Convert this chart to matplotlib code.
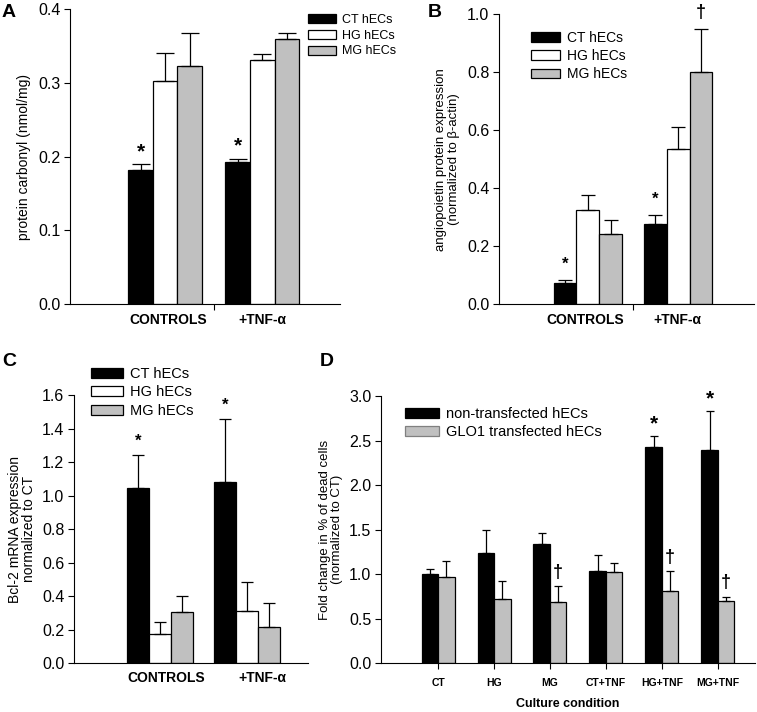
import numpy as np
import matplotlib.pyplot as plt
from matplotlib.patches import Patch

plt.rcParams['font.family'] = ['Liberation Sans', 'DejaVu Sans']

GRAY = '#c0c0c0'

# Panel A - protein carbonyl
grupos_ab = ['CONTROLS', '+TNF-\u03b1']
a_ct = [0.182, 0.193]
a_ct_err = [0.008, 0.004]
a_hg = [0.303, 0.331]
a_hg_err = [0.038, 0.008]
a_mg = [0.323, 0.360]
a_mg_err = [0.045, 0.008]

# Panel B - angiopoietin
b_ct = [0.071, 0.277]
b_ct_err = [0.013, 0.031]
b_hg = [0.325, 0.534]
b_hg_err = [0.051, 0.077]
b_mg = [0.241, 0.802]
b_mg_err = [0.049, 0.146]

# Panel C - Bcl-2 mRNA
c_ct = [1.044, 1.081]
c_ct_err = [0.198, 0.374]
c_hg = [0.175, 0.312]
c_hg_err = [0.068, 0.173]
c_mg = [0.304, 0.217]
c_mg_err = [0.098, 0.143]

# Panel D - dead cells
condiciones = ['CT', 'HG', 'MG', 'CT+TNF', 'HG+TNF', 'MG+TNF']
d_non = [1.00, 1.24, 1.335, 1.036, 2.43, 2.39]
d_non_err = [0.06, 0.26, 0.125, 0.175, 0.12, 0.44]
d_glo = [0.97, 0.72, 0.69, 1.025, 0.81, 0.70]
d_glo_err = [0.18, 0.20, 0.17, 0.095, 0.22, 0.045]

fig = plt.figure(figsize=(7.57, 7.12), dpi=100)


def estilo(ax):
    ax.spines['top'].set_visible(False)
    ax.spines['right'].set_visible(False)
    ax.tick_params(axis='y', direction='out', length=4, width=0.8, labelsize=11.5, pad=3)
    ax.tick_params(axis='x', direction='out', length=4, width=0.8)


def barras(ax, x, vals, errs, color, ancho, capsize):
    ax.bar(x, vals, ancho, color=color, edgecolor='black', linewidth=0.9, zorder=2)
    ax.errorbar(x, vals, yerr=[np.zeros(len(vals)), errs], fmt='none', ecolor='black',
                elinewidth=0.9, capsize=capsize, capthick=0.9, zorder=3)


def marca(ax, x, y, s, off, size):
    ax.annotate(s, (x, y), xytext=(0, off), textcoords='offset points',
                ha='center', va='center', fontsize=size, fontweight='bold')


def grupos3(ax, ct, ct_e, hg, hg_e, mg, mg_e, w, cap):
    x = np.array([1.0, 2.0])
    barras(ax, x - w, ct, ct_e, 'black', w, cap)
    barras(ax, x, hg, hg_e, 'white', w, cap)
    barras(ax, x + w, mg, mg_e, GRAY, w, cap)
    return x


def leyenda(handles, x, y, size, hl):
    fig.legend(handles=handles, loc='upper left', bbox_to_anchor=(x / 757, 1 - y / 712),
               frameon=False, fontsize=size, handlelength=hl, handleheight=0.7,
               labelspacing=0.3, handletextpad=0.5, borderpad=0, borderaxespad=0)


# ---------------- A ----------------
axA = fig.add_axes([0.0931, 0.573, 0.356, 0.414])
w = 0.253
x = grupos3(axA, a_ct, a_ct_err, a_hg, a_hg_err, a_mg, a_mg_err, w, 6.5)
axA.set_xlim(0.026, 2.80)
axA.set_ylim(0, 0.4)
axA.set_yticks([0, 0.1, 0.2, 0.3, 0.4])
axA.set_yticklabels(['0.0', '0.1', '0.2', '0.3', '0.4'])
axA.set_xticks([1.5])
axA.set_xticklabels([''])
for xi, g in zip([1.03, 2.0], grupos_ab):
    axA.text(xi, -0.012, g, ha='center', va='top', fontsize=10, fontweight='bold')
axA.set_ylabel('protein carbonyl (nmol/mg)', fontsize=10, labelpad=5)
estilo(axA)
for i in range(2):
    marca(axA, x[i] - w, a_ct[i] + a_ct_err[i], '*', 9, 15)

# ---------------- B ----------------
axB = fig.add_axes([0.6592, 0.573, 0.3368, 0.407])
x = grupos3(axB, b_ct, b_ct_err, b_hg, b_hg_err, b_mg, b_mg_err, w, 5)
axB.set_xlim(0.016, 2.84)
axB.set_ylim(0, 1.0)
axB.set_yticks([0, 0.2, 0.4, 0.6, 0.8, 1.0])
axB.set_yticklabels(['0.0', '0.2', '0.4', '0.6', '0.8', '1.0'])
axB.set_xticks([1.5])
axB.set_xticklabels([''])
for xi, g in zip([0.97, 1.99], grupos_ab):
    axB.text(xi, -0.03, g, ha='center', va='top', fontsize=10, fontweight='bold')
axB.set_ylabel('angiopoietin protein expression\n(normalized to \u03b2-actin)', fontsize=9.5,
               linespacing=1.1, labelpad=5)
estilo(axB)
for i in range(2):
    marca(axB, x[i] - w, b_ct[i] + b_ct_err[i], '*', 11, 12)
marca(axB, x[1] + w, b_mg[1] + b_mg_err[1], '\u2020', 12, 13)

# ---------------- C ----------------
axC = fig.add_axes([0.0978, 0.0688, 0.309, 0.3764])
x = grupos3(axC, c_ct, c_ct_err, c_hg, c_hg_err, c_mg, c_mg_err, w, 4)
axC.set_xlim(0.011, 2.70)
axC.set_ylim(0, 1.6)
axC.set_yticks(np.arange(0, 1.61, 0.2))
axC.set_yticklabels(['%.1f' % v for v in np.arange(0, 1.61, 0.2)])
axC.set_xticks([])
for xi, g in zip([1.07, 2.18], grupos_ab):
    axC.text(xi, -0.05, g, ha='center', va='top', fontsize=10, fontweight='bold')
axC.set_ylabel('Bcl-2 mRNA expression\nnormalized to CT', fontsize=10, linespacing=1.05)
estilo(axC)
for i in range(2):
    marca(axC, x[i] - w, c_ct[i] + c_ct_err[i], '*', 10, 12)

# ---------------- D ----------------
axD = fig.add_axes([0.5033, 0.0688, 0.4937, 0.375])
xd = np.arange(len(condiciones))
wd = 0.295
barras(axD, xd - wd / 2, d_non, d_non_err, 'black', wd, 3)
barras(axD, xd + wd / 2, d_glo, d_glo_err, GRAY, wd, 3)
axD.set_xlim(-1.02, 5.66)
axD.set_ylim(0, 3.0)
axD.set_yticks(np.arange(0, 3.01, 0.5))
axD.set_yticklabels(['%.1f' % v for v in np.arange(0, 3.01, 0.5)])
axD.set_xticks(xd)
axD.set_xticklabels(condiciones, fontsize=7.5, fontweight='bold')
axD.set_xlabel('Culture condition', fontsize=9, fontweight='bold', labelpad=7)
axD.set_ylabel('Fold change in % of dead cells\n(normalized to CT)', fontsize=9.5,
               linespacing=1.05)
estilo(axD)
axD.tick_params(axis='x', pad=7)
for i in [4, 5]:
    marca(axD, xd[i] - wd / 2, d_non[i] + d_non_err[i], '*', 9, 15)
for i in [2, 4, 5]:
    marca(axD, xd[i] + wd / 2, d_glo[i] + d_glo_err[i], '\u2020', 10, 13)

# leyendas
h3 = [Patch(facecolor='black', edgecolor='black', linewidth=0.9, label='CT hECs'),
      Patch(facecolor='white', edgecolor='black', linewidth=0.9, label='HG hECs'),
      Patch(facecolor=GRAY, edgecolor='black', linewidth=0.9, label='MG hECs')]
leyenda(h3, 308, 14, 9, 2.25)
leyenda(h3, 531, 31, 10, 2.1)
leyenda(h3, 91, 367, 10.5, 2.2)
h2 = [Patch(facecolor='black', edgecolor='black', linewidth=0.9, label='non-transfected hECs'),
      Patch(facecolor=GRAY, edgecolor='#808080', linewidth=0.9, label='GLO1 transfected hECs')]
leyenda(h2, 405, 407, 10.5, 2.3)

# letras de panel
for s, (px, py) in zip('ABCD', [(2, 4), (428, 4), (2, 353), (320, 353)]):
    fig.text(px / 757, 1 - py / 712, s, fontsize=14, fontweight='bold', ha='left', va='top')

fig.savefig('out.png', dpi=100)
